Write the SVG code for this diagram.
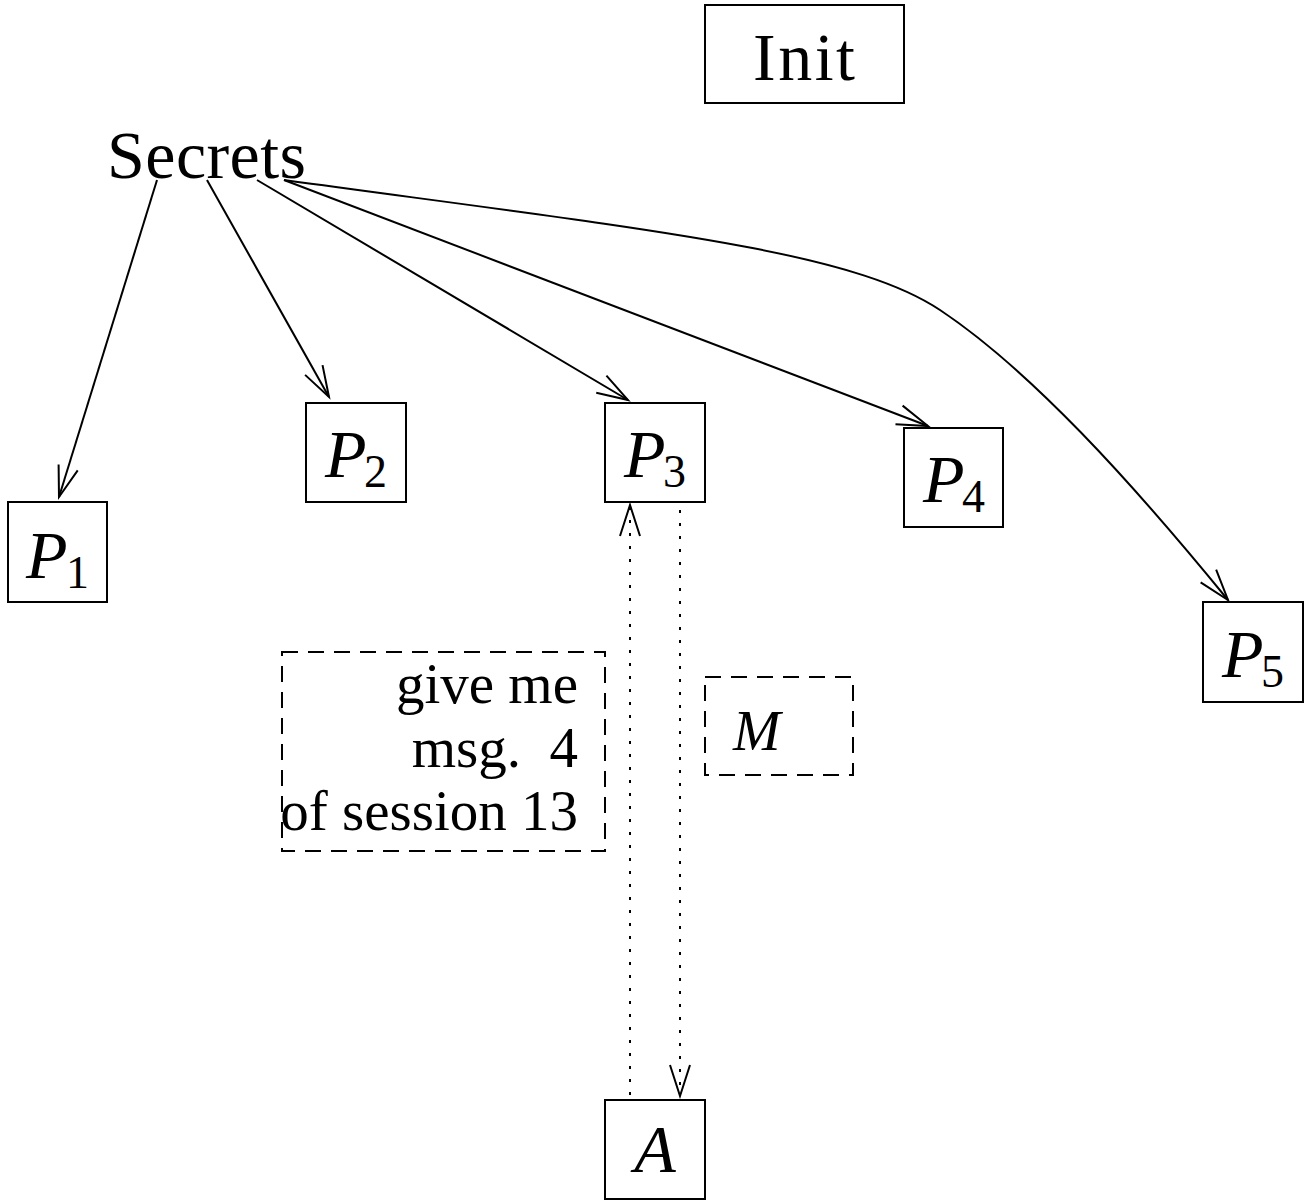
<svg xmlns="http://www.w3.org/2000/svg" width="1304" height="1202" viewBox="0 0 1304 1202">
<style>
.box{fill:#fff;stroke:#000;stroke-width:2}
.dbox{fill:none;stroke:#000;stroke-width:2;stroke-dasharray:16 10}
.edge{fill:none;stroke:#000;stroke-width:2}
.dot{fill:none;stroke:#000;stroke-width:2;stroke-dasharray:3 10}
text{font-family:"Liberation Serif","DejaVu Serif",serif;fill:#000}
.big{font-size:68px}
.it{font-style:italic;font-size:68px}
.sub{font-size:46px}
.lbl{font-size:57px}
</style>
<defs>
<marker id="ah" markerUnits="userSpaceOnUse" markerWidth="40" markerHeight="30" refX="0" refY="0" viewBox="-32 -15 40 30" orient="auto" overflow="visible">
<path d="M-31,-10 L0,0 L-31,10" fill="none" stroke="#000" stroke-width="2"/>
</marker>
</defs>
<g id="connectors">
<path class="edge" d="M157,180 L59,497" marker-end="url(#ah)"/>
<path class="edge" d="M207,180 L329,397" marker-end="url(#ah)"/>
<path class="edge" d="M257,180 L628,400" marker-end="url(#ah)"/>
<path class="edge" d="M284,180 L928,426" marker-end="url(#ah)"/>
<path class="edge" d="M284,180 C650,230 850,250 940,310 S1130,480 1228,600" marker-end="url(#ah)"/>
<path class="dot" d="M630,1095 L630,505" marker-end="url(#ah)"/>
<path class="dot" d="M680,510 L680,1096" marker-end="url(#ah)"/>
</g>
<g id="init">
<rect class="box" x="705" y="5" width="199" height="98"/>
<text class="big" x="804" y="80" text-anchor="middle" textLength="102">Init</text>
</g>
<g id="secrets">
<text class="big" x="107" y="178" textLength="199">Secrets</text>
</g>
<g id="p1">
<rect class="box" x="8" y="502" width="99" height="100"/>
<text class="it" x="26" y="578">P</text>
<text class="sub" x="66" y="588">1</text>
</g>
<g id="p2">
<rect class="box" x="306" y="403" width="100" height="99"/>
<text class="it" x="325" y="477">P</text>
<text class="sub" x="364" y="487">2</text>
</g>
<g id="p3">
<rect class="box" x="605" y="403" width="100" height="99"/>
<text class="it" x="624" y="477">P</text>
<text class="sub" x="663" y="487">3</text>
</g>
<g id="p4">
<rect class="box" x="904" y="428" width="99" height="99"/>
<text class="it" x="923" y="502">P</text>
<text class="sub" x="962" y="512">4</text>
</g>
<g id="p5">
<rect class="box" x="1203" y="602" width="100" height="100"/>
<text class="it" x="1222" y="677">P</text>
<text class="sub" x="1261" y="687">5</text>
</g>
<g id="a">
<rect class="box" x="605" y="1100" width="100" height="99"/>
<text class="it" x="655" y="1172" text-anchor="middle">A</text>
</g>
<g id="request">
<rect class="dbox" x="282" y="652" width="323" height="199"/>
<text class="lbl" x="578" y="703" text-anchor="end">give me</text>
<text class="lbl" x="578" y="767" text-anchor="end" xml:space="preserve">msg.  4</text>
<text class="lbl" x="578" y="830" text-anchor="end">of session 13</text>
</g>
<g id="m">
<rect class="dbox" x="705" y="677" width="148" height="98"/>
<text class="it" x="733" y="750" style="font-size:57px">M</text>
</g>
</svg>
